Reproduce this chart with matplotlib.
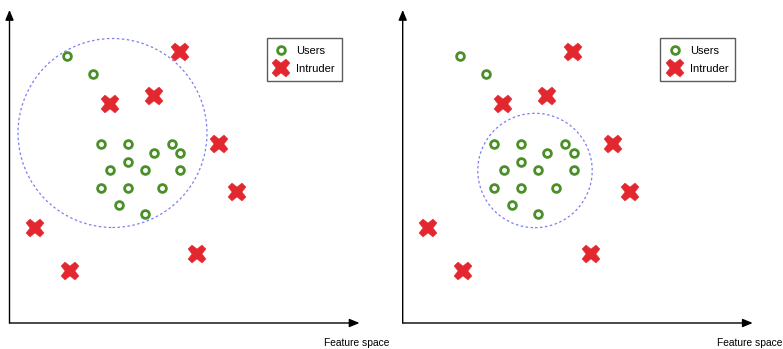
import matplotlib
matplotlib.use("Agg")
import matplotlib.pyplot as plt
from matplotlib.patches import Circle
from matplotlib.lines import Line2D

# Data (feature-space coordinates, same for both panels)
users_x = [57.2, 83.2, 91.5, 118.2, 144.2, 162.2, 170.8, 118.2, 100.8, 135.5, 170.8, 91.5, 118.2, 152.8, 109.5, 135.5]
users_y = [267.0, 249.3, 179.0, 179.0, 170.0, 179.0, 170.0, 161.3, 152.7, 152.7, 152.7, 135.3, 135.3, 135.3, 117.7, 108.7]
intruder_x = [170.5, 144.2, 100.2, 209.8, 227.2, 25.5, 187.8, 60.5]
intruder_y = [271.3, 227.3, 218.7, 179.0, 131.0, 95.3, 69.0, 52.0]
# Decision boundaries: (center x, center y, radius)
boundaries = [(103.0, 190.0, 94.5), (132.3, 152.5, 57.2)]
axis_label = "Feature space"
legend_labels = ["Users", "Intruder"]

W, H = 783, 349
fig = plt.figure(figsize=(W / 100, H / 100), dpi=100)
fig.patch.set_facecolor("white")

GREEN = "#4b8f29"
RED = "#e3272e"
BLUE = "#7b7ff0"

origins = [9.5, 402.7]
XMAX, YMAX = 350, 313
for ox, (cx, cy, r) in zip(origins, boundaries):
    ax = fig.add_axes([ox / W, (H - 323) / H, XMAX / W, YMAX / H])
    ax.set_xlim(0, XMAX)
    ax.set_ylim(0, YMAX)
    ax.axis("off")
    # axes arrows
    ax.annotate("", xy=(XMAX, 0), xytext=(0, 0),
                arrowprops=dict(arrowstyle="-|>,head_length=0.6,head_width=0.25", color="black", lw=1.0,
                                shrinkA=0, shrinkB=0), annotation_clip=False)
    ax.annotate("", xy=(0, YMAX), xytext=(0, 0),
                arrowprops=dict(arrowstyle="-|>,head_length=0.6,head_width=0.25", color="black", lw=1.0,
                                shrinkA=0, shrinkB=0), annotation_clip=False)
    # boundary circle
    ax.add_patch(Circle((cx, cy), r, fill=False, edgecolor=BLUE, lw=0.9, linestyle=(0, (2, 2))))
    ax.plot(intruder_x, intruder_y, linestyle="none", marker="X", markersize=13,
            markerfacecolor=RED, markeredgecolor=RED, markeredgewidth=0.3, zorder=3)
    ax.plot(users_x, users_y, linestyle="none", marker="o", markersize=5.6,
            markerfacecolor="white", markeredgecolor=GREEN, markeredgewidth=2.0, zorder=4)
    ax.text(XMAX + 30, -20, axis_label, ha="right", va="center", fontsize=7.4,
            family="Liberation Sans", clip_on=False)
    handles = [
        Line2D([], [], linestyle="none", marker="o", markersize=5.6, markerfacecolor="white",
               markeredgecolor=GREEN, markeredgewidth=2.0),
        Line2D([], [], linestyle="none", marker="X", markersize=13, markerfacecolor=RED,
               markeredgecolor=RED, markeredgewidth=0.3),
    ]
    leg = ax.legend(handles, legend_labels, loc="upper left", bbox_to_anchor=(257.5 / XMAX, (323 - 38.3) / YMAX),
                    frameon=True, fancybox=False, prop={"family": "Liberation Sans", "size": 8},
                    handlelength=1.3, handletextpad=0.7, labelspacing=0.75, borderpad=0.65,
                    borderaxespad=0)
    leg.get_frame().set_edgecolor("#333333")
    leg.get_frame().set_linewidth(1.0)

fig.savefig("out.png", dpi=100, facecolor="white")
